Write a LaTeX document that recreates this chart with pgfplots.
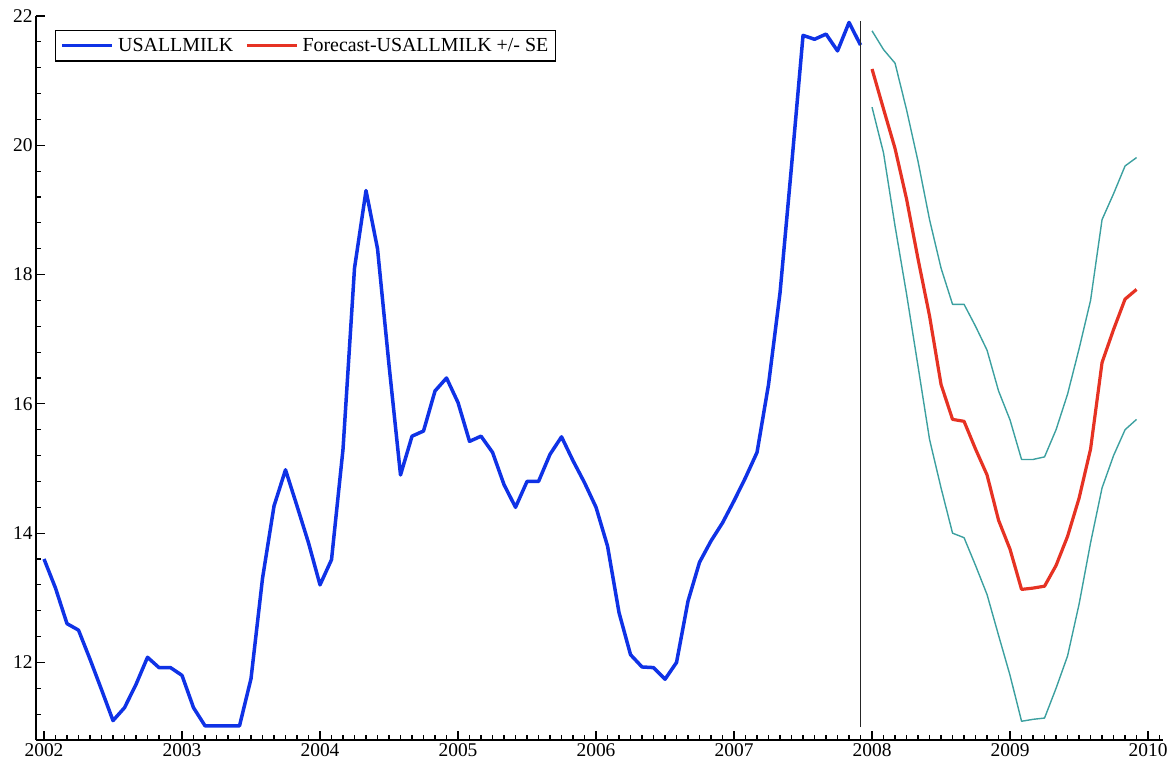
\documentclass[border=0pt]{standalone}
\usepackage{fontspec}
\setmainfont{Liberation Serif}
\usepackage{pgfplots}
\usepackage{pgfplotstable}
\pgfplotsset{compat=1.18}
\definecolor{milkblue}{RGB}{15,50,230}
\definecolor{fcred}{RGB}{230,50,35}
\definecolor{seteal}{RGB}{60,160,160}

% month index: 0 = Jan 2002
\pgfplotstableread{
m v
0 13.6
1 13.15
2 12.6
3 12.5
4 12.05
5 11.58
6 11.1
7 11.3
8 11.66
9 12.08
10 11.92
11 11.92
12 11.8
13 11.3
14 11.02
15 11.02
16 11.02
17 11.02
18 11.75
19 13.3
20 14.42
21 14.98
22 14.42
23 13.85
24 13.2
25 13.59
26 15.3
27 18.1
28 19.3
29 18.4
30 16.6
31 14.9
32 15.5
33 15.58
34 16.2
35 16.4
36 16.02
37 15.42
38 15.5
39 15.25
40 14.75
41 14.4
42 14.8
43 14.8
44 15.22
45 15.49
46 15.12
47 14.78
48 14.4
49 13.8
50 12.77
51 12.12
52 11.93
53 11.92
54 11.74
55 12.0
56 12.95
57 13.55
58 13.88
59 14.16
60 14.5
61 14.86
62 15.25
63 16.3
64 17.72
65 19.68
66 21.7
67 21.64
68 21.72
69 21.46
70 21.9
71 21.55
}\actual

\pgfplotstableread{
m f up lo
72 21.18 21.77 20.59
73 20.56 21.48 19.88
74 19.95 21.27 18.75
75 19.17 20.55 17.7
76 18.24 19.75 16.58
77 17.36 18.85 15.45
78 16.3 18.1 14.7
79 15.76 17.54 14.0
80 15.73 17.54 13.93
81 15.3 17.2 13.5
82 14.9 16.83 13.05
83 14.2 16.2 12.42
84 13.75 15.75 11.8
85 13.13 15.14 11.09
86 13.15 15.14 11.12
87 13.18 15.18 11.14
88 13.5 15.6 11.6
89 13.95 16.15 12.1
90 14.54 16.85 12.9
91 15.3 17.6 13.85
92 16.64 18.85 14.7
93 17.15 19.25 15.2
94 17.62 19.68 15.6
95 17.77 19.81 15.76
}\forecast

\begin{document}
\begin{tikzpicture}
\begin{axis}[
  scale only axis, width=1127bp, height=724bp,
  xmin=-0.696, xmax=97.3, ymin=10.8, ymax=22,
  axis x line*=bottom, axis y line*=left,
  axis line style={-, line width=1.4bp, black},
  tick align=inside,
  major tick length=9bp, minor tick length=5bp,
  every tick/.style={black, line width=1.2bp},
  xtick={0,12,...,96},
  xticklabels={2002,2003,2004,2005,2006,2007,2008,2009,2010},
  minor xtick={0,1,...,97},
  ytick={12,14,...,22},
  minor ytick={10.8,11.2,11.6,12.4,12.8,13.2,13.6,14.4,14.8,15.2,15.6,16.4,16.8,17.2,17.6,18.4,18.8,19.2,19.6,20.4,20.8,21.2,21.6},
  /pgf/number format/assume math mode=true,
  tick label style={font=\fontsize{19.5}{22}\selectfont},
  legend columns=2,
  legend style={at={(0.0169,0.981)}, anchor=north west, draw=black, line width=1.3bp,
    font=\fontsize{20}{22}\selectfont, inner xsep=5bp, inner ysep=6bp,
    /tikz/every odd column/.append style={column sep=2bp},
    /tikz/every even column/.append style={column sep=10bp}},
  legend image code/.code={\draw[#1] (0bp,0bp) -- (50bp,0bp);},
]
\addplot[milkblue, line width=3.5bp, line join=round] table[x=m, y=v] {\actual};
\addlegendentry{USALLMILK}
\addplot[fcred, line width=3.2bp, line join=round] table[x=m, y=f] {\forecast};
\addlegendentry{Forecast-USALLMILK +/- SE}
\addplot[seteal, line width=1.4bp, line join=round, forget plot] table[x=m, y=up] {\forecast};
\addplot[seteal, line width=1.4bp, line join=round, forget plot] table[x=m, y=lo] {\forecast};
\addplot[black!85, line width=1.8bp, forget plot] coordinates {(71,11.0) (71,21.93)};
\end{axis}
\pgfresetboundingbox
\path[use as bounding box] ([xshift=-36bp,yshift=-27bp]current axis.south west) rectangle ([xshift=5bp,yshift=16bp]current axis.north east);
\end{tikzpicture}
\end{document}
